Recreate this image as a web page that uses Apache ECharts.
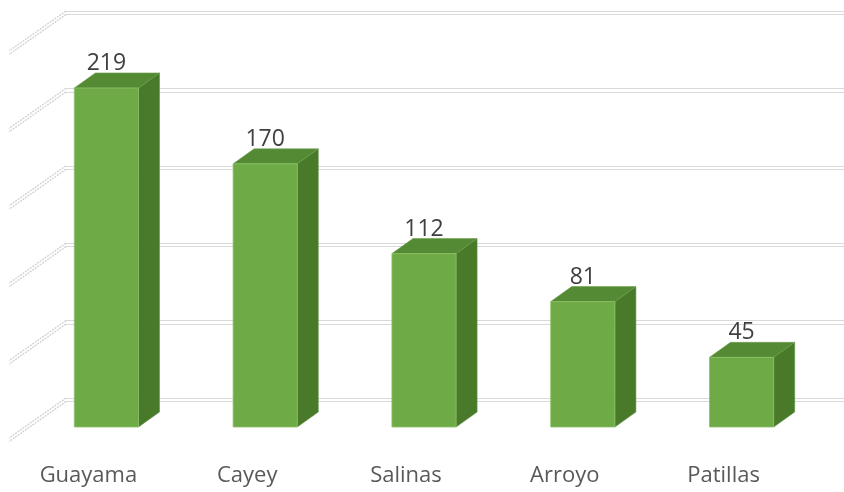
<!DOCTYPE html>
<html>
<head>
<meta charset="utf-8">
<script src="https://cdn.jsdelivr.net/npm/echarts@6/dist/echarts.min.js"></script>
<style>
  html, body { margin: 0; padding: 0; background: #fff; }
  #chart { width: 844px; height: 492px; }
</style>
</head>
<body>
<div id="chart"></div>
<script>
const towns = ['Guayama', 'Cayey', 'Salinas', 'Arroyo', 'Patillas']
const counts = [219, 170, 112, 81, 45]
const wallTicks = [0, 50, 100, 150, 200, 250]

// depth of a bar and of the whole floor (px), as in the excel 3d view
const barDx = 21
const barDy = -15
const wallDx = -54
const wallDy = 40

const chart = echarts.init(document.getElementById('chart'))

function renderBar(params, api) {
  const i = api.value(0)
  const v = api.value(1)
  const base = api.coord([i, 0])
  const top = api.coord([i, v])
  const w = api.size([1, 0])[0] * 0.404
  const x0 = base[0] - w / 2
  const x1 = x0 + w
  return {
    type: 'group',
    children: [
      {
        type: 'polygon',
        shape: { points: [[x1, top[1]], [x1 + barDx, top[1] + barDy], [x1 + barDx, base[1] + barDy], [x1, base[1]]] },
        style: { fill: '#487A2A', stroke: '#5f8f43', lineWidth: 0.6 }
      },
      {
        type: 'polygon',
        shape: { points: [[x0, top[1]], [x1, top[1]], [x1 + barDx, top[1] + barDy], [x0 + barDx, top[1] + barDy]] },
        style: { fill: '#548A33', stroke: '#6a9d4c', lineWidth: 0.6 }
      },
      {
        type: 'rect',
        shape: { x: x0, y: top[1], width: w, height: base[1] - top[1] },
        style: { fill: '#6EAB46', stroke: '#8cc06a', lineWidth: 0.8 }
      },
      {
        type: 'text',
        style: {
          text: String(v),
          x: x0 + w / 2,
          y: top[1] + barDy + 2,
          align: 'center',
          verticalAlign: 'bottom',
          fontFamily: 'Open Sans',
          fontSize: 23,
          fill: '#404040'
        }
      }
    ]
  }
}

function renderSideLine(params, api) {
  const cs = params.coordSys
  const y = api.coord([0, api.value(0)])[1]
  const x = cs.x
  const line = (dy) => ({
    type: 'line',
    shape: { x1: x + 1, y1: y + dy, x2: x - 2 + wallDx, y2: y + dy + wallDy },
    style: { stroke: '#d0d0d0', lineWidth: 1.3, lineDash: [2, 1] }
  })
  return { type: 'group', children: [line(0), line(3.5)] }
}

const splitStyle = { show: true, lineStyle: { color: '#d9d9d9', width: 1.2 } }

chart.setOption({
  animation: false,
  grid: [
    { left: 65, right: 0, top: 11, height: 387 },
    { left: 65, right: 0, top: 14.5, height: 387 },
    { left: 27, width: 794, top: 40, height: 387 },
    { left: 9, width: 794, top: 40, height: 387 }
  ],
  xAxis: [
    { gridIndex: 0, type: 'category', data: towns, show: false },
    { gridIndex: 1, type: 'category', data: towns, show: false },
    { gridIndex: 2, type: 'category', data: towns, show: false },
    {
      gridIndex: 3,
      type: 'category',
      data: towns,
      axisLine: { show: false },
      axisTick: { show: false },
      axisLabel: { margin: 38, fontFamily: 'Open Sans', fontSize: 22, color: '#595959' }
    }
  ],
  yAxis: [0, 1].map(g => ({
    gridIndex: g,
    type: 'value',
    min: 0,
    max: 250,
    interval: 50,
    axisLine: { show: false },
    axisTick: { show: false },
    axisLabel: { show: false },
    splitLine: splitStyle
  })).concat([2, 3].map(g => ({
    gridIndex: g,
    type: 'value',
    min: 0,
    max: 250,
    show: false,
    splitLine: { show: false }
  }))),
  series: [
    {
      type: 'custom',
      xAxisIndex: 0,
      yAxisIndex: 0,
      renderItem: renderSideLine,
      data: wallTicks.map(t => [t]),
      encode: { y: 0 },
      silent: true,
      z: 1
    },
    {
      type: 'custom',
      xAxisIndex: 2,
      yAxisIndex: 2,
      renderItem: renderBar,
      data: counts.map((c, i) => [i, c]),
      encode: { x: 0, y: 1 },
      z: 5
    }
  ]
})
</script>
</body>
</html>
